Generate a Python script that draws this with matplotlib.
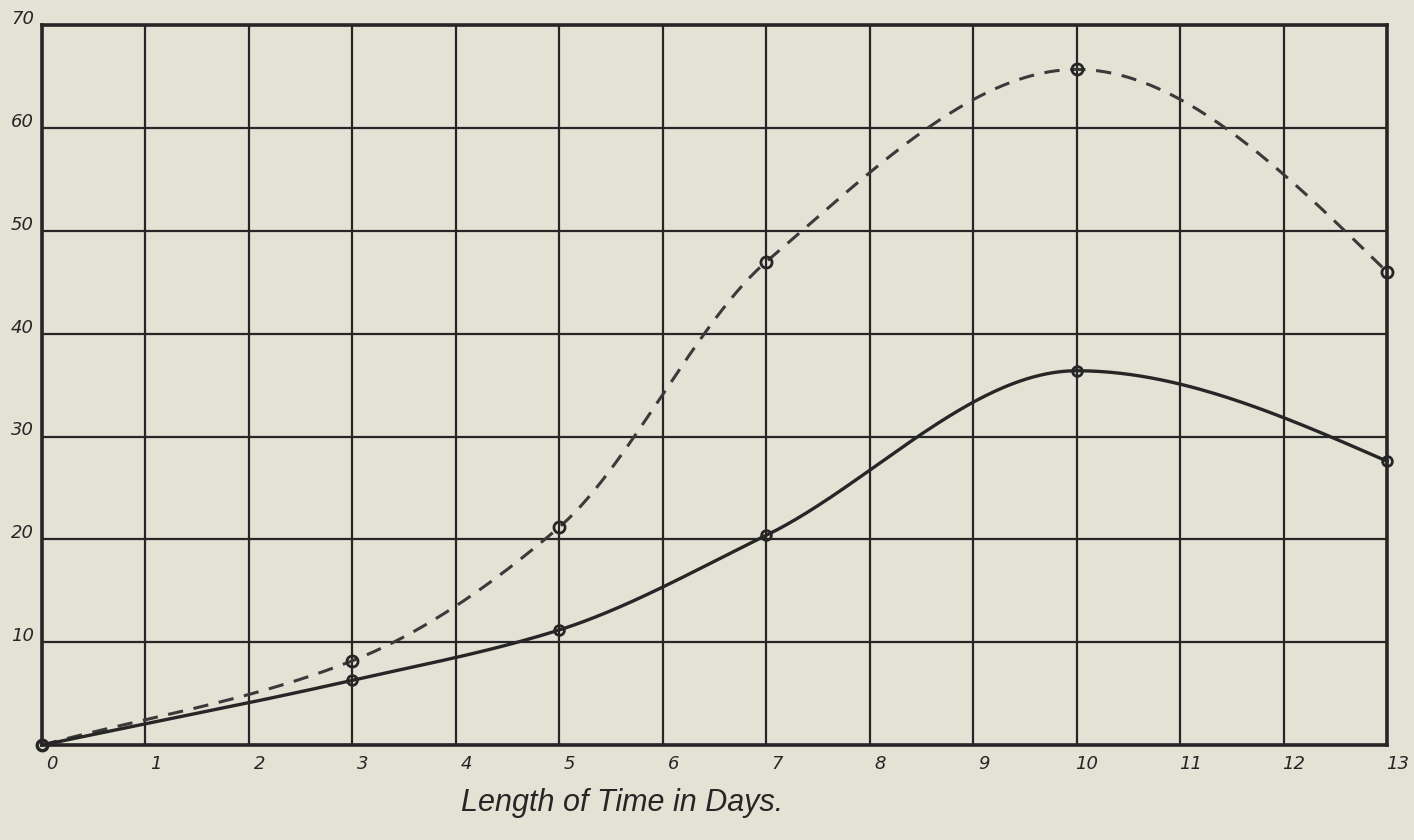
import numpy as np
import matplotlib
matplotlib.use('Agg')
import matplotlib.pyplot as plt

days = [0, 3, 5, 7, 10, 13]
upper = [0.0, 8.2, 21.2, 47.0, 65.7, 46.0]   # dashed curve
lower = [0.0, 6.3, 11.2, 20.4, 36.4, 27.6]   # solid curve
x_ticks = list(range(0, 14))
y_ticks = list(range(0, 80, 10))

PAPER = '#e3e2d5'
INK = '#262626'


def smooth(xs, ys, n=400):
    # monotone cubic Hermite curve through the measured points
    xs = np.asarray(xs, float)
    ys = np.asarray(ys, float)
    h = np.diff(xs)
    d = np.diff(ys) / h
    m = np.zeros_like(ys)
    for i in range(1, len(xs) - 1):
        if d[i - 1] * d[i] > 0:
            w1 = 2 * h[i] + h[i - 1]
            w2 = h[i] + 2 * h[i - 1]
            m[i] = (w1 + w2) / (w1 / d[i - 1] + w2 / d[i])
    m[0] = d[0]
    m[-1] = 1.5 * d[-1]

    xx = np.linspace(xs[0], xs[-1], n)
    idx = np.clip(np.searchsorted(xs, xx, side='right') - 1, 0, len(xs) - 2)
    hk = h[idx]
    t = (xx - xs[idx]) / hk
    h00 = 2 * t**3 - 3 * t**2 + 1
    h10 = t**3 - 2 * t**2 + t
    h01 = -2 * t**3 + 3 * t**2
    h11 = t**3 - t**2
    yy = h00 * ys[idx] + h10 * hk * m[idx] + h01 * ys[idx + 1] + h11 * hk * m[idx + 1]
    return xx, yy


fig = plt.figure(figsize=(14.14, 8.4), dpi=100, facecolor=PAPER)
ax = fig.add_axes([0.0297, 0.113, 0.9513, 0.857], facecolor=PAPER)

ax.set_xlim(0, 13)
ax.set_ylim(0, 70)

for x in x_ticks:
    ax.axvline(x, color=INK, lw=1.6, zorder=1)
for y in y_ticks:
    ax.axhline(y, color=INK, lw=1.6, zorder=1)
for s in ax.spines.values():
    s.set_color(INK)
    s.set_linewidth(2.6)
ax.set_xticks([])
ax.set_yticks([])

ux, uy = smooth(days, upper)
lx, ly = smooth(days, lower)
ax.plot(ux, uy, color='#3a3a3a', lw=2.2, ls=(0, (5, 3.5)), clip_on=False, zorder=3)
ax.plot(lx, ly, color=INK, lw=2.4, clip_on=False, zorder=3)
ax.plot(days, upper, 'o', ms=8, mfc='none', mec=INK, mew=2, clip_on=False, zorder=4)
ax.plot(days, lower, 'o', ms=7, mfc='none', mec=INK, mew=2, clip_on=False, zorder=4)

for x in x_ticks:
    ax.text(x + 0.1, -1.8, str(x), ha='center', va='center', fontsize=13,
            style='italic', color=INK, clip_on=False)
for y in y_ticks[1:]:
    ax.text(-0.19, y + 0.6, str(y), ha='center', va='center', fontsize=13,
            style='italic', color=INK, clip_on=False)

fig.text(0.44, 0.044, 'Length of Time in Days.', ha='center', va='center',
         fontsize=22, style='italic', color=INK, family='Liberation Sans')

fig.savefig('out.png', dpi=100, facecolor=PAPER)
